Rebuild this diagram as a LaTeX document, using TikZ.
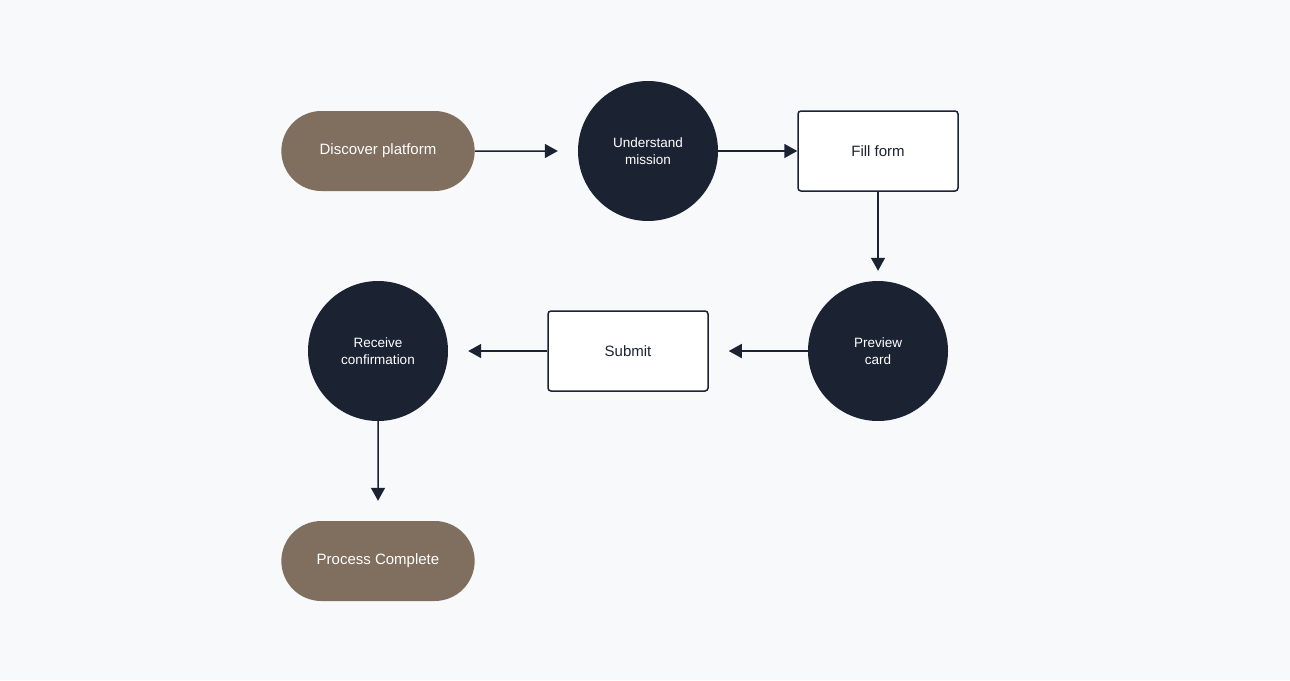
\documentclass[tikz,border=0pt]{standalone}
\usepackage{fontspec}
\setmainfont{Liberation Sans}
\usetikzlibrary{arrows.meta,positioning,shapes.misc}
\definecolor{pagebg}{HTML}{F7F9FB}
\definecolor{taupe}{HTML}{806E5E}
\definecolor{navy}{HTML}{1B2232}
\tikzset{
  terminal/.style={rounded rectangle, fill=taupe, text=white, minimum width=200pt,
    minimum height=80pt, font=\fontsize{15}{18}\selectfont},
  stage/.style={circle, fill=navy, text=white, minimum size=140pt, align=center,
    font=\fontsize{13.5}{17}\selectfont},
  task/.style={rectangle, rounded corners=3pt, draw=navy, line width=1.5pt, fill=white,
    text=navy, minimum width=160pt, minimum height=80pt, font=\fontsize{15}{18}\selectfont},
  flow/.style={-{Triangle[length=13pt,width=14pt]}, draw=navy, line width=1.5pt}
}
\begin{document}
\begin{tikzpicture}[x=1pt,y=-1pt]
  \fill[pagebg] (0,0) rectangle (1290,680);
  \useasboundingbox (0,0) rectangle (1290,680);

  \node[terminal] (discover) at (378,151) {Discover platform};
  \node[stage]    (mission)  at (648,151) {Understand\\mission};
  \node[task]     (form)     at (878,151) {Fill form};
  \node[stage]    (preview)  at (878,351) {Preview\\card};
  \node[task]     (submit)   at (628,351) {Submit};
  \node[stage]    (confirm)  at (378,351) {Receive\\confirmation};
  \node[terminal] (complete) at (378,561) {Process Complete};

  \draw[flow, shorten >=20pt] (discover) -- (mission);
  \draw[flow] (mission) -- (form);
  \draw[flow, shorten >=10pt] (form) -- (preview);
  \draw[flow, shorten >=20pt] (preview) -- (submit);
  \draw[flow, shorten >=20pt] (submit) -- (confirm);
  \draw[flow, shorten >=20pt] (confirm) -- (complete);
\end{tikzpicture}
\end{document}
